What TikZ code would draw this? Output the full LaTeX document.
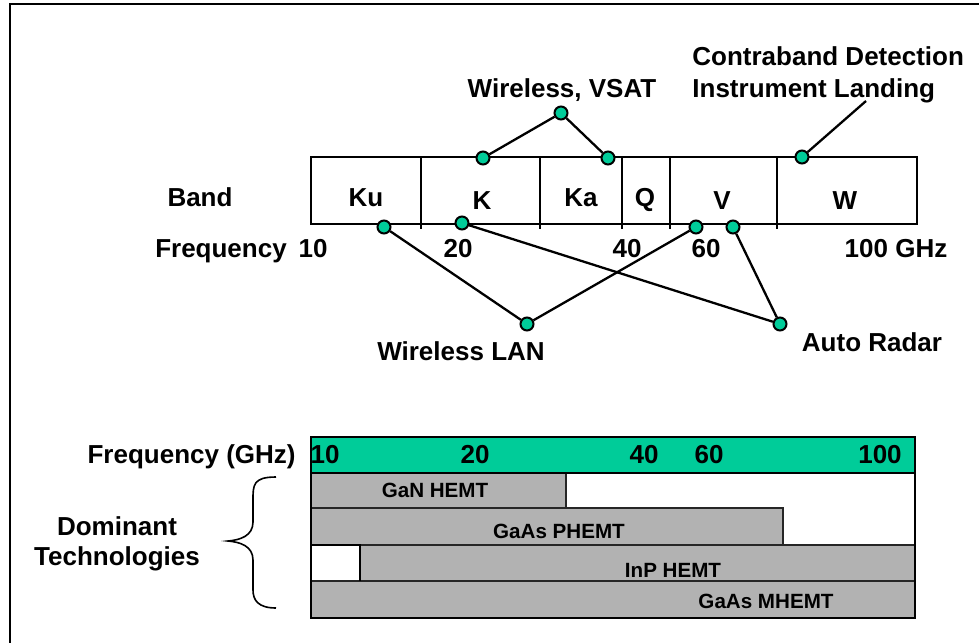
\documentclass[tikz,border=0pt]{standalone}
\usepackage{fontspec}
\setmainfont{Liberation Sans}
\usepackage{tikz}
\usetikzlibrary{positioning}
\definecolor{bandgreen}{HTML}{00CC99}
\definecolor{techgray}{HTML}{B2B2B2}
\tikzset{
  lbl/.style     = {font=\fontsize{13}{16}\selectfont\bfseries, inner sep=0pt},
  techlbl/.style = {font=\fontsize{10.3}{12}\selectfont\bfseries, inner sep=0pt},
  dot/.style     = {circle, draw=black, line width=1pt, fill=bandgreen,
                    minimum size=6.5pt, inner sep=0pt},
  link/.style    = {draw=black, line width=1.15pt},
  boxline/.style = {draw=black, line width=1.3pt},
  techbar/.style = {draw=black!85, line width=1pt, fill=techgray},
}

\begin{document}
\begin{tikzpicture}[x=0.5pt, y=-0.5pt]
  \useasboundingbox (0,0) rectangle (979,643);
  \draw[line width=1pt] (979,4) -- (10,4) -- (10,643);

  % band chart
  \draw[boxline] (311,157) rectangle (917,224);
  \foreach \x in {421,540,622,670,777}
    \draw[boxline] (\x,157) -- (\x,229);

  \node[lbl, anchor=base] (band) at (200,206) {Band};
  \node[lbl, anchor=base] (ku) at (366,206) {Ku};
  \node[lbl, anchor=base] (k)  at (482,209) {K};
  \node[lbl, anchor=base] (ka) at (581,206) {Ka};
  \node[lbl, anchor=base] (q)  at (645,206) {Q};
  \node[lbl, anchor=base] (v)  at (722,209) {V};
  \node[lbl, anchor=base] (w)  at (845,209) {W};

  \node[lbl, anchor=base] (freq) at (221,257) {Frequency};
  \node[lbl, anchor=base] (f10)  at (313,257) {10};
  \node[lbl, anchor=base] (f20)  at (458,257) {20};
  \node[lbl, anchor=base] (f40)  at (627,257) {40};
  \node[lbl, anchor=base] (f60)  at (706,257) {60};
  \node[lbl, anchor=base] (f100) at (896,257) {100 GHz};

  % applications
  \node[lbl, anchor=base] (vsatlbl) at (562,97) {Wireless, VSAT};
  \node[lbl, anchor=base west, align=left] (contra) at (692,97)
       {Contraband Detection\\Instrument Landing};
  \node[lbl, anchor=base] (lanlbl) at (461,360) {Wireless LAN};
  \node[lbl, anchor=base] (radarlbl) at (872,351) {Auto Radar};

  \node[dot] (vsat)  at (561,113) {};
  \node[dot] (ktop)  at (483,158) {};
  \node[dot] (katop) at (608,158) {};
  \node[dot] (wtop)  at (802,157) {};
  \coordinate (cdend) at (866,101);

  \node[dot] (kubot) at (384,227) {};
  \node[dot] (kbot)  at (462,223) {};
  \node[dot] (vbot1) at (696,227) {};
  \node[dot] (vbot2) at (733,227) {};
  \node[dot] (lan)   at (527,324) {};
  \node[dot] (radar) at (780,324) {};

  \draw[link] (vsat) -- (ktop);
  \draw[link] (vsat) -- (katop);
  \draw[link] (wtop) -- (cdend);
  \draw[link] (kubot) -- (lan);
  \draw[link] (vbot1) -- (lan);
  \draw[link] (kbot) -- (radar);
  \draw[link] (vbot2) -- (radar);

  % technologies
  \node[lbl, anchor=base east] (fghz) at (296,463) {Frequency (GHz)};
  \draw[boxline, line width=1pt, fill=bandgreen] (311,437) rectangle (915,473);
  \foreach \x/\t in {325/10, 475/20, 644/40, 709/60, 880/100}
    \node[lbl, anchor=base] (g\t) at (\x,463) {\t};

  \draw[techbar] (311,473) rectangle (566,508);
  \draw[techbar] (311,508) rectangle (783,545);
  \draw[techbar] (360,545) rectangle (915,581);
  \draw[techbar] (311,581) rectangle (915,618);
  \draw[line width=1pt] (311,473) rectangle (915,618);
  \draw[line width=1pt] (311,545) -- (360,545) -- (360,581);

  \node[techlbl, anchor=base] (gan)   at (435,497) {GaN HEMT};
  \node[techlbl, anchor=base] (phemt) at (559,538) {GaAs PHEMT};
  \node[techlbl, anchor=base] (inp)   at (673,577) {InP HEMT};
  \node[techlbl, anchor=base] (mhemt) at (766,608) {GaAs MHEMT};

  \node[lbl, anchor=base] (dom) at (117,535) {Dominant};
  \node[lbl, anchor=base] (tech) at (117,565) {Technologies};
  \draw[line width=0.8pt] (276,477) .. controls (253,477) and (253,485) .. (253,500)
    -- (253,522) .. controls (253,536) and (240,540) .. (228,541)
    .. controls (240,542) and (253,546) .. (253,560)
    -- (253,590) .. controls (253,600) and (258,608) .. (276,608);
\end{tikzpicture}
\end{document}
